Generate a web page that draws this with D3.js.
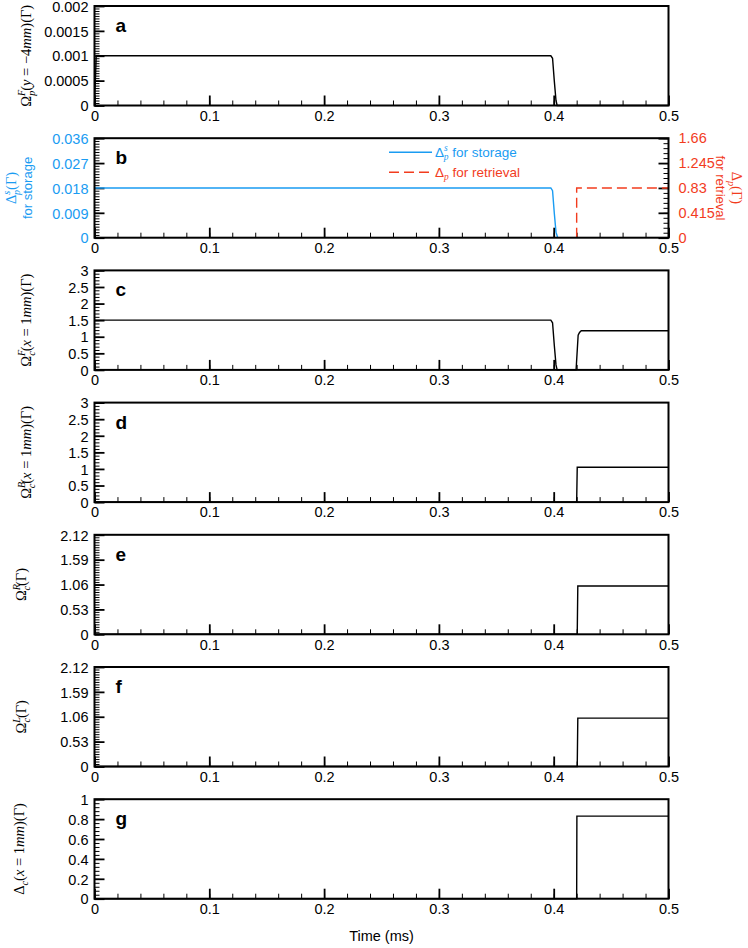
<!DOCTYPE html>
<html>
<head>
<meta charset="utf-8">
<script src="https://cdn.jsdelivr.net/npm/d3@7/dist/d3.min.js"></script>
<style>
  body { margin: 0; background: #fff; }
  text { font-family: "Liberation Sans", Arial, Helvetica, sans-serif; }
  .math { font-family: "Liberation Serif", "DejaVu Serif", serif; }
</style>
</head>
<body>
<div id="chart"></div>
<script>
// shared time axis (ms)
var xTicks = [0, 0.1, 0.2, 0.3, 0.4, 0.5];

// a: probe Rabi frequency, forward, at y = -4mm
var timeA = [0, 0.0015, 0.3975, 0.399, 0.4005, 0.402, 0.403, 0.5];
var valA  = [0, 0.001, 0.001, 0.00095, 0.0005, 0.0001, 0, 0];
var yTicksA = [0, 0.0005, 0.001, 0.0015, 0.002];

// b: probe detuning, storage (left axis) and retrieval (right axis)
var timeStore = [0, 0.3975, 0.399, 0.4005, 0.402, 0.4035];
var valStore  = [0.018, 0.018, 0.017, 0.009, 0.002, 0];
var timeRetr  = [0.42, 0.42, 0.5];
var valRetr   = [0, 0.83, 0.83];
var yTicksB  = [0, 0.009, 0.018, 0.027, 0.036];
var yTicksBR = [0, 0.415, 0.83, 1.245, 1.66];

// c: forward control field at x = 1mm
var timeC = [0, 0.3975, 0.399, 0.4005, 0.402, 0.403, 0.4195, 0.4213, 0.4225, 0.424, 0.5];
var valC  = [1.5, 1.5, 1.42, 0.75, 0.15, 0, 0, 1.05, 1.13, 1.18, 1.18];
var yTicksC = [0, 0.5, 1, 1.5, 2, 2.5, 3];

// d: backward control field at x = 1mm
var timeD = [0, 0.42, 0.4205, 0.5];
var valD  = [0, 0, 1.05, 1.05];

// e, f: right / left control fields
var timeE = [0, 0.4205, 0.421, 0.5];
var valE  = [0, 0, 1.03, 1.03];
var timeF = [0, 0.4205, 0.421, 0.5];
var valF  = [0, 0, 1.03, 1.03];
var yTicksEF = [0, 0.53, 1.06, 1.59, 2.12];

// g: control detuning at x = 1mm
var timeG = [0, 0.42, 0.4202, 0.5];
var valG  = [0, 0, 0.83, 0.83];
var yTicksG = [0, 0.2, 0.4, 0.6, 0.8, 1];

var BLUE = "#1a9cf2", RED = "#f23c1e";

var width = 748, height = 948;
var left = 94.5, right = 668.5, panelH = 99.5, step = 132.2, top0 = 6;
var LABEL_SIZE = 14.5;

var svg = d3.select("#chart").append("svg")
    .attr("width", width)
    .attr("height", height);

var x = d3.scaleLinear().domain([0, 0.5]).range([left, right]);

function zipData(t, v) { return t.map(function(d, i) { return [d, v[i]]; }); }

// renders latex-ish label parts into a text element
function mathText(sel, segs, size) {
    var cur = 0;
    segs.forEach(function(s) {
        var off = 0, fs = size;
        if (s.k === "sup") { off = -0.4 * size; fs = size * 0.7; }
        if (s.k === "sub") { off = 0.28 * size; fs = size * 0.7; }
        var t = sel.append("tspan")
            .attr("dy", off - cur)
            .attr("font-size", fs)
            .text(s.t);
        if (s.back) t.attr("dx", -s.back * size / 13);
        if (s.i) t.attr("font-style", "italic");
        if (s.sans) t.attr("font-family", "'Liberation Sans', Arial, sans-serif");
        cur = off;
    });
}

var panels = [
    { letter: "a", yMax: 0.002, ticks: yTicksA, minor: 0.00005,
      series: [{ d: zipData(timeA, valA), color: "#000" }],
      labelX: 31,
      label: [{t: "Ω"}, {t: "F", k: "sup", i: 1}, {t: "p", k: "sub", i: 1, back: 5.5},
              {t: "("}, {t: "y", i: 1}, {t: " = −4"}, {t: "mm", i: 1}, {t: ")(Γ)"}] },
    { letter: "b", yMax: 0.036, ticks: yTicksB, minor: 0.001, tickColor: BLUE,
      series: [{ d: zipData(timeStore, valStore), color: BLUE }],
      right: { yMax: 1.66, ticks: yTicksBR, minor: 0.083, color: RED,
               series: [{ d: zipData(timeRetr, valRetr), color: RED, dash: "10,5" }] } },
    { letter: "c", yMax: 3, ticks: yTicksC, minor: 0.1,
      series: [{ d: zipData(timeC, valC), color: "#000" }],
      labelX: 31,
      label: [{t: "Ω"}, {t: "F", k: "sup", i: 1}, {t: "c", k: "sub", i: 1, back: 5.5},
              {t: "("}, {t: "x", i: 1}, {t: " = 1"}, {t: "mm", i: 1}, {t: ")(Γ)"}] },
    { letter: "d", yMax: 3, ticks: yTicksC, minor: 0.1,
      series: [{ d: zipData(timeD, valD), color: "#000" }],
      labelX: 31,
      label: [{t: "Ω"}, {t: "B", k: "sup", i: 1}, {t: "c", k: "sub", i: 1, back: 5.8},
              {t: "("}, {t: "x", i: 1}, {t: " = 1"}, {t: "mm", i: 1}, {t: ")(Γ)"}] },
    { letter: "e", yMax: 2.12, ticks: yTicksEF, minor: 0.053,
      series: [{ d: zipData(timeE, valE), color: "#000" }],
      labelX: 26,
      label: [{t: "Ω"}, {t: "R", k: "sup", i: 1}, {t: "c", k: "sub", i: 1, back: 5.8}, {t: "(Γ)"}] },
    { letter: "f", yMax: 2.12, ticks: yTicksEF, minor: 0.053,
      series: [{ d: zipData(timeF, valF), color: "#000" }],
      labelX: 26,
      label: [{t: "Ω"}, {t: "L", k: "sup", i: 1}, {t: "c", k: "sub", i: 1, back: 5}, {t: "(Γ)"}] },
    { letter: "g", yMax: 1, ticks: yTicksG, minor: 0.04,
      series: [{ d: zipData(timeG, valG), color: "#000" }],
      labelX: 24,
      label: [{t: "Δ"}, {t: "c", k: "sub", i: 1},
              {t: "("}, {t: "x", i: 1}, {t: " = 1"}, {t: "mm", i: 1}, {t: ")(Γ)"}] }
];

function minorValues(max, st) {
    return d3.range(0, max + st / 2, st);
}

function styleAxis(g, w) {
    g.select(".domain").remove();
    g.selectAll(".tick line").attr("stroke", "#000").attr("stroke-width", w);
    g.selectAll(".tick text").attr("font-size", 14.5).attr("fill", "#000");
}

panels.forEach(function(p, i) {
    var top = top0 + i * step;
    var bottom = top + panelH;
    var y = d3.scaleLinear().domain([0, p.yMax]).range([bottom, top]);
    var g = svg.append("g").attr("class", "panel-" + p.letter);

    // x axis: minor then major
    g.append("g").attr("transform", "translate(0," + bottom + ")")
        .call(d3.axisBottom(x).tickValues(minorValues(0.5, 0.02)).tickSize(-5).tickFormat(""))
        .call(function(a) { styleAxis(a, 1); });
    g.append("g").attr("transform", "translate(0," + bottom + ")")
        .call(d3.axisBottom(x).tickValues(xTicks).tickSize(-10).tickPadding(5)
            .tickFormat(function(d) { return String(d); }))
        .call(function(a) { styleAxis(a, 1.8); });

    // left y axis
    g.append("g").attr("transform", "translate(" + left + ",0)")
        .call(d3.axisLeft(y).tickValues(minorValues(p.yMax, p.minor)).tickSize(-5).tickFormat(""))
        .call(function(a) { styleAxis(a, 1); });
    var yl = g.append("g").attr("transform", "translate(" + left + ",0)")
        .call(d3.axisLeft(y).tickValues(p.ticks).tickSize(-10).tickPadding(6)
            .tickFormat(function(d) { return String(d); }))
        .call(function(a) { styleAxis(a, 1.8); });
    yl.selectAll(".tick text").attr("dy", "0.36em");
    if (p.tickColor) yl.selectAll(".tick text").attr("fill", p.tickColor);

    var line = d3.line().x(function(d) { return x(d[0]); }).y(function(d) { return y(d[1]); });

    p.series.forEach(function(s) {
        g.append("path")
            .datum(s.d)
            .attr("d", line)
            .attr("fill", "none")
            .attr("stroke", s.color)
            .attr("stroke-width", 1.4)
            .attr("stroke-dasharray", s.dash || null);
    });

    if (p.right) {
        var r = p.right;
        var yR = d3.scaleLinear().domain([0, r.yMax]).range([bottom, top]);
        g.append("g").attr("transform", "translate(" + right + ",0)")
            .call(d3.axisRight(yR).tickValues(minorValues(r.yMax, r.minor)).tickSize(-5).tickFormat(""))
            .call(function(a) { styleAxis(a, 1); });
        var yr = g.append("g").attr("transform", "translate(" + right + ",0)")
            .call(d3.axisRight(yR).tickValues(r.ticks).tickSize(-10).tickPadding(10)
                .tickFormat(function(d) { return String(d); }))
            .call(function(a) { styleAxis(a, 1.8); });
        yr.selectAll(".tick text").attr("dy", "0.3em").attr("fill", r.color);

        var lineR = d3.line().x(function(d) { return x(d[0]); }).y(function(d) { return yR(d[1]); });
        r.series.forEach(function(s) {
            g.append("path")
                .datum(s.d)
                .attr("d", lineR)
                .attr("fill", "none")
                .attr("stroke", s.color)
                .attr("stroke-width", 1.4)
                .attr("stroke-dasharray", s.dash || null);
        });

        // legend
        var lg = [
            { y: top + 14, color: BLUE, dash: null,
              segs: [{t: "Δ", sans: 1}, {t: "s", k: "sup", i: 1}, {t: "p", k: "sub", i: 1, back: 3.8},
                     {t: " for storage", sans: 1}] },
            { y: top + 34, color: RED, dash: "10,5",
              segs: [{t: "Δ", sans: 1}, {t: "p", k: "sub", i: 1}, {t: " for retrieval", sans: 1}] }
        ];
        lg.forEach(function(l) {
            g.append("line")
                .attr("x1", 389).attr("x2", 432)
                .attr("y1", l.y).attr("y2", l.y)
                .attr("stroke", l.color)
                .attr("stroke-width", 1.4)
                .attr("stroke-dasharray", l.dash);
            var t = g.append("text").attr("class", "math")
                .attr("x", 435).attr("y", l.y + 4.5)
                .attr("fill", l.color);
            mathText(t, l.segs, 13.5);
        });

        // left two-line label
        var cy = top + panelH / 2;
        var t1 = g.append("text").attr("class", "math")
            .attr("transform", "translate(16," + cy + ") rotate(-90)")
            .attr("text-anchor", "middle").attr("fill", BLUE);
        mathText(t1, [{t: "Δ"}, {t: "s", k: "sup", i: 1}, {t: "p", k: "sub", i: 1, back: 3.8}, {t: "(Γ)"}], LABEL_SIZE);
        g.append("text")
            .attr("transform", "translate(32," + cy + ") rotate(-90)")
            .attr("text-anchor", "middle").attr("fill", BLUE)
            .attr("font-size", 13)
            .text("for storage");

        // right two-line label
        var t2 = g.append("text").attr("class", "math")
            .attr("transform", "translate(732," + cy + ") rotate(90)")
            .attr("text-anchor", "middle").attr("fill", RED);
        mathText(t2, [{t: "Δ"}, {t: "p", k: "sub", i: 1}, {t: "(Γ)"}], LABEL_SIZE);
        g.append("text")
            .attr("transform", "translate(716," + cy + ") rotate(90)")
            .attr("text-anchor", "middle").attr("fill", RED)
            .attr("font-size", 13)
            .text("for retrieval");
    } else {
        var lt = g.append("text").attr("class", "math")
            .attr("transform", "translate(" + p.labelX + "," + (top + panelH / 2) + ") rotate(-90)")
            .attr("text-anchor", "middle")
            .attr("fill", "#000");
        mathText(lt, p.label, LABEL_SIZE);
    }

    // frame
    g.append("rect")
        .attr("x", left).attr("y", top)
        .attr("width", right - left).attr("height", panelH)
        .attr("fill", "none")
        .attr("stroke", "#000")
        .attr("stroke-width", 2);

    // panel letter
    g.append("text")
        .attr("x", left + 21).attr("y", top + 26)
        .attr("font-size", 19)
        .attr("font-weight", "bold")
        .text(p.letter);
});

svg.append("text")
    .attr("x", (left + right) / 2)
    .attr("y", 941)
    .attr("text-anchor", "middle")
    .attr("font-size", 14.5)
    .text("Time (ms)");
</script>
</body>
</html>
